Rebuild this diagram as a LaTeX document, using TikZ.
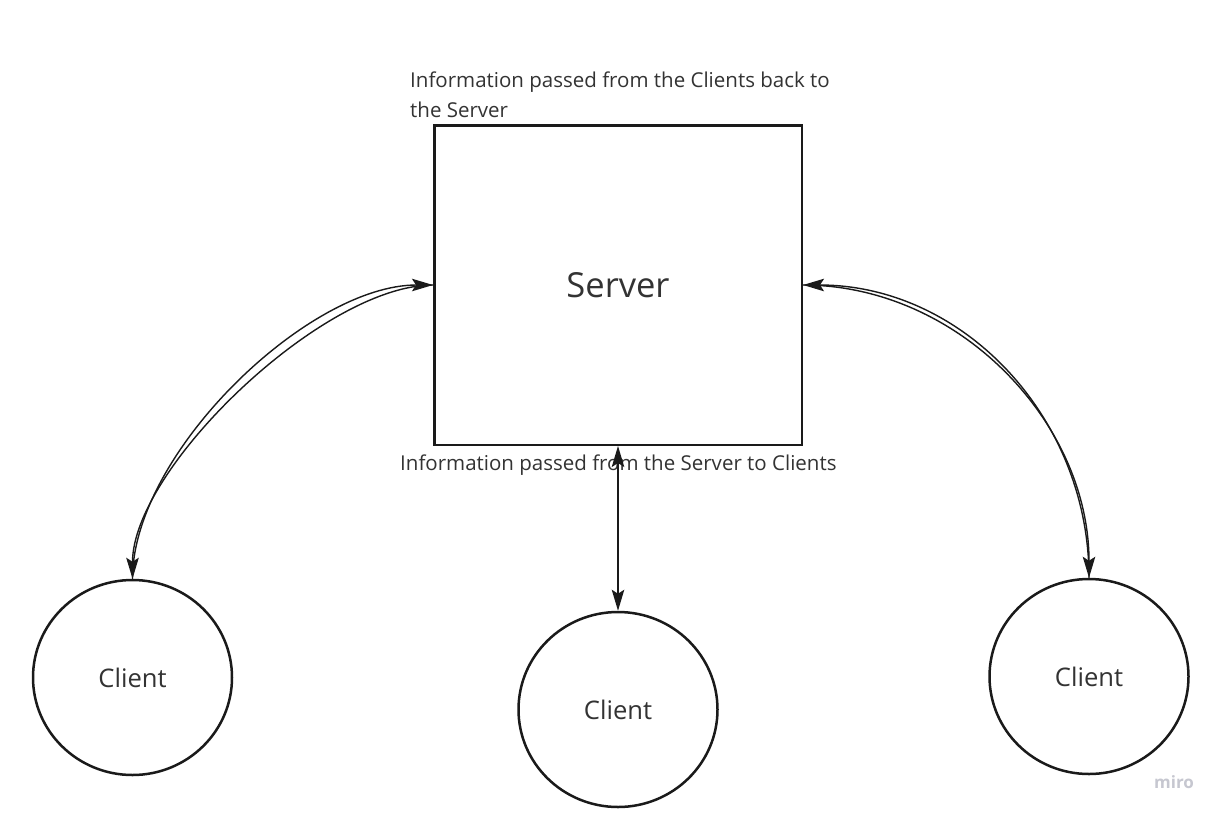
\documentclass[tikz,border=0pt]{standalone}
\usepackage{fontspec}
\setmainfont{Open Sans}
\usetikzlibrary{arrows.meta,shapes.geometric}
\definecolor{ink}{HTML}{1A1A1A}
\definecolor{txt}{HTML}{333333}
\definecolor{mirogrey}{HTML}{C6C7D0}
\begin{document}
\begin{tikzpicture}[x=1pt,y=-1pt,
  srvbox/.style={draw=ink,line width=2.5pt,minimum width=367.5pt,minimum height=319.5pt,inner sep=0pt,
    text=txt,font=\fontsize{34.5}{40}\selectfont},
  clientnode/.style={ellipse,draw=ink,line width=2.5pt,minimum width=199pt,minimum height=195pt,inner sep=0pt,
    text=txt,font=\fontsize{25.6}{30}\selectfont},
  lbl/.style={text=txt,inner sep=0pt,font=\fontsize{20.5}{30}\selectfont},
  conn/.style={draw=ink,line width=1.4pt,>={Stealth[length=21pt,width=12.5pt,inset=4pt]}}
]
\fill[white] (0,0) rectangle (1223,817);
\useasboundingbox (0,0) rectangle (1223,817);

\node[srvbox] (srv) at (618,285) {Server};
\node[clientnode] (cl1) at (132.5,677.5) {Client};
\node[clientnode] (cl2) at (618,709.5) {Client};
\node[clientnode] (cl3) at (1089,676.5) {Client};

\node[lbl,anchor=base west] (lbltop1) at (410,87) {Information passed from the Clients back to};
\node[lbl,anchor=base west] (lbltop2) at (410,117) {the Server};
\node[lbl,anchor=base west] (lblbot) at (400,470) {Information passed from the Server to Clients};
\node[anchor=base,inner sep=0pt,text=mirogrey,font=\fontsize{17}{17}\selectfont\bfseries] (miro) at (1174,788) {miro};

\draw[conn,->] (cl1.north) to[out=90,in=180,looseness=0.76] (srv.west);
\draw[conn,->] (srv.west) to[out=180,in=90,looseness=0.67] (cl1.north);
\draw[conn,->] (cl3.north) to[out=90,in=0,looseness=1] (srv.east);
\draw[conn,->] (srv.east) to[out=0,in=90,looseness=0.97] (cl3.north);
\draw[conn,<->] (srv.south) -- (cl2.north);
\end{tikzpicture}
\end{document}
